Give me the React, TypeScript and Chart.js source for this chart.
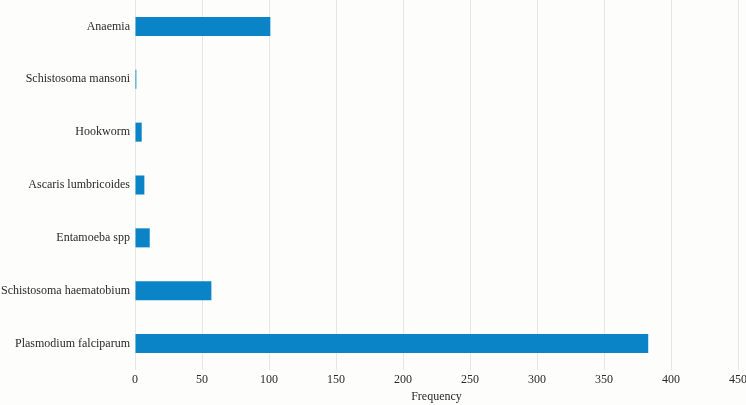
import React, { useEffect, useRef } from "react";
import { Chart, registerables } from "chart.js";
Chart.register(...registerables);

const categories = [
  "Anaemia",
  "Schistosoma mansoni",
  "Hookworm",
  "Ascaris lumbricoides",
  "Entamoeba spp",
  "Schistosoma haematobium",
  "Plasmodium falciparum",
];
const frequencies = [101, 1, 5, 7, 11, 57, 383];
const xTicks = [0, 50, 100, 150, 200, 250, 300, 350, 400, 450];
const xTitle = "Frequency";

export default function App() {
  const ref = useRef<HTMLCanvasElement>(null);
  useEffect(() => {
    document.body.style.margin = "0";
    const font = { family: "'Liberation Serif', 'DejaVu Serif', serif", size: 12 };
    const chart = new Chart(ref.current!, {
      type: "bar",
      data: {
        labels: categories,
        datasets: [
          {
            data: frequencies,
            backgroundColor: "#0a84c6",
            borderWidth: 0,
            barPercentage: 0.36,
            categoryPercentage: 1,
          },
        ],
      },
      options: {
        indexAxis: "y",
        animation: false,
        responsive: false,
        maintainAspectRatio: false,
        layout: { padding: { left: 0, right: 8, top: 0, bottom: 0 } },
        plugins: { legend: { display: false }, tooltip: { enabled: false } },
        scales: {
          x: {
            min: 0,
            max: 450,
            afterBuildTicks: (axis: any) => {
              axis.ticks = xTicks.map((v) => ({ value: v }));
            },
            afterFit: (axis: any) => {
              axis.paddingLeft = 0;
              axis.paddingRight = 0;
              axis.height = 35;
            },
            grid: { color: "#e6e6e6", drawTicks: false, lineWidth: 1 },
            border: { display: false },
            ticks: { color: "#2a2a2a", font, padding: 3, maxRotation: 0, autoSkip: false },
            title: { display: true, text: xTitle, color: "#2a2a2a", font, padding: { top: 3, bottom: 1 } },
          },
          y: {
            afterFit: (axis: any) => {
              axis.width = 135;
              axis.paddingTop = 0;
              axis.paddingBottom = 0;
            },
            grid: { display: false, drawTicks: false },
            border: { display: false },
            ticks: { color: "#2a2a2a", font, padding: 5 },
          },
        },
      },
    });
    return () => chart.destroy();
  }, []);
  return (
    <div style={{ width: 746, height: 405, background: "#fdfdfb" }}>
      <canvas ref={ref} width={746} height={405} style={{ display: "block" }} />
    </div>
  );
}
